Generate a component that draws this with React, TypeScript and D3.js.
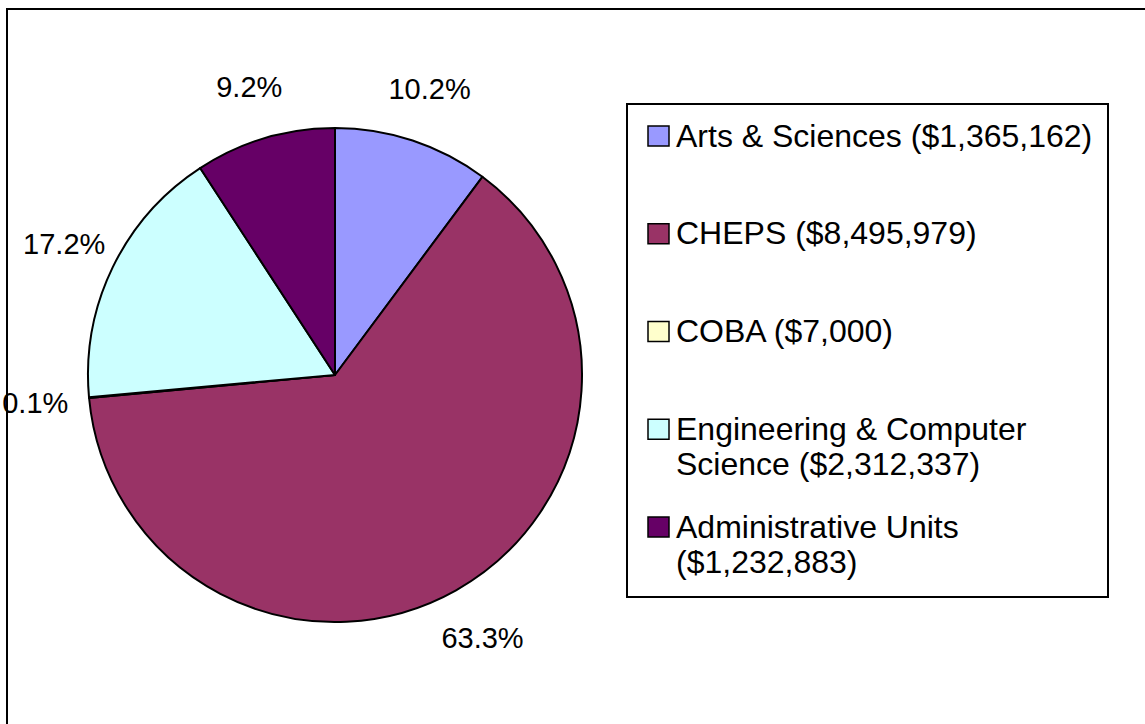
import React from "react";
import * as d3 from "d3";

const categories = [
  "Arts & Sciences",
  "CHEPS",
  "COBA",
  "Engineering & Computer Science",
  "Administrative Units",
];
const amounts = [1365162, 8495979, 7000, 2312337, 1232883];
const colors = ["#9999FF", "#993366", "#FFFFCC", "#CCFFFF", "#660066"];

const W = 1145;
const H = 724;
const FONT = "'Liberation Sans', Arial, Helvetica, sans-serif";

function measure(text: string, size: number): number {
  if (typeof document === "undefined") return text.length * size * 0.5;
  const c = document.createElement("canvas");
  const ctx = c.getContext("2d");
  if (!ctx) return text.length * size * 0.5;
  ctx.font = `${size}px ${FONT}`;
  return ctx.measureText(text).width;
}

function wrap(text: string, size: number, maxW: number): string[] {
  const words = text.split(" ");
  const lines: string[] = [];
  let cur = "";
  for (const w of words) {
    const t = cur ? cur + " " + w : w;
    if (cur && measure(t, size) > maxW) {
      lines.push(cur);
      cur = w;
    } else cur = t;
  }
  if (cur) lines.push(cur);
  return lines;
}

export default function App() {
  const cx = 335;
  const cy = 375;
  const R = 247;
  const labelR = 301;

  const total = d3.sum(amounts);
  const pie = d3
    .pie<number>()
    .sort(null)
    .value((d) => d);
  const arcs = pie(amounts);
  const arc = d3.arc<d3.PieArcDatum<number>>().innerRadius(0).outerRadius(R);
  const pct = d3.format(".1%");
  const money = d3.format("$,");

  const legendX = 627;
  const legendY = 104;
  const legendW = 481;
  const legendH = 493;
  const legendFont = 32;
  const rowStart = 146.5;
  const rowStep = 97.75;
  const lineH = 35.7;

  return (
    <svg
      width={W}
      height={H}
      style={{ position: "absolute", left: 0, top: 0, background: "#fff" }}
      fontFamily={FONT}
    >
      <rect x={0} y={0} width={W} height={H} fill="#fff" />
      <rect
        x={7}
        y={9}
        width={W + 40}
        height={H + 40}
        fill="none"
        stroke="#000"
        strokeWidth={2}
      />
      <g transform={`translate(${cx},${cy})`}>
        {arcs.map((a, i) => (
          <path
            key={i}
            d={arc(a) || ""}
            fill={colors[i]}
            stroke="#000"
            strokeWidth={2}
            strokeLinejoin="round"
          />
        ))}
        {arcs.map((a, i) => {
          const mid = (a.startAngle + a.endAngle) / 2;
          const x = labelR * Math.sin(mid);
          const y = -labelR * Math.cos(mid);
          return (
            <text
              key={"l" + i}
              x={x}
              y={y}
              dy="0.35em"
              textAnchor="middle"
              fontSize={29}
              fill="#000"
            >
              {pct(amounts[i] / total)}
            </text>
          );
        })}
      </g>
      <rect
        x={legendX}
        y={legendY}
        width={legendW}
        height={legendH}
        fill="#fff"
        stroke="#000"
        strokeWidth={2}
      />
      {categories.map((c, i) => {
        const base = rowStart + i * rowStep;
        const lines = wrap(`${c} (${money(amounts[i])})`, legendFont, 425);
        return (
          <g key={"g" + i}>
            <rect
              x={648}
              y={base - 20.5}
              width={21}
              height={20}
              fill={colors[i]}
              stroke="#000"
              strokeWidth={1.5}
            />
            <text x={676} y={base} fontSize={legendFont} fill="#000">
              {lines.map((ln, j) => (
                <tspan key={j} x={676} y={base + j * lineH}>
                  {ln}
                </tspan>
              ))}
            </text>
          </g>
        );
      })}
    </svg>
  );
}
